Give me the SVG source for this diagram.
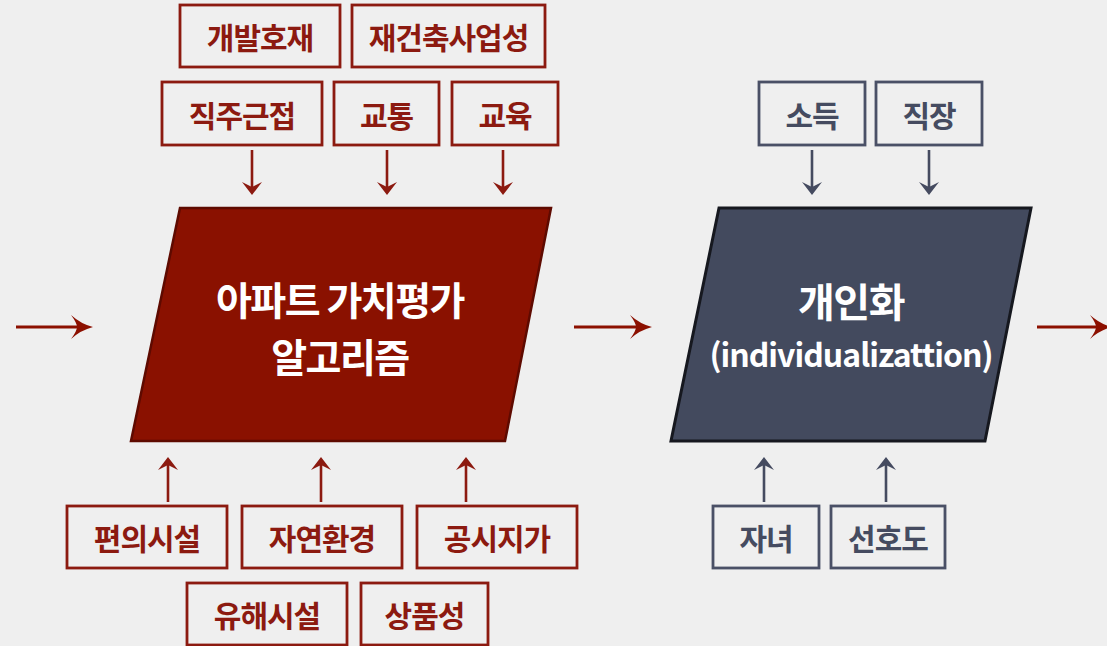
<svg xmlns="http://www.w3.org/2000/svg" width="1107" height="646" viewBox="0 0 1107 646">
  <defs>
    <style>
      .bg { fill: #efefef; }
      .rbox { fill: none; stroke: #8c1a10; stroke-width: 2.8; }
      .bbox { fill: none; stroke: #4a5066; stroke-width: 2.8; }
      .rtxt { fill: #8c1a10; font-family: "Noto Sans CJK KR", "Noto Sans", sans-serif; font-weight: 700; font-size: 30px; letter-spacing: -1px; text-anchor: middle; dominant-baseline: central; }
      .btxt { fill: #454b60; font-family: "Noto Sans CJK KR", "Noto Sans", sans-serif; font-weight: 700; font-size: 30px; letter-spacing: -1px; text-anchor: middle; dominant-baseline: central; }
      .big { fill: #ffffff; font-family: "Noto Sans CJK KR", "Noto Sans", sans-serif; font-weight: 700; font-size: 39px; letter-spacing: -1.5px; text-anchor: middle; dominant-baseline: central; }
      .big2 { fill: #ffffff; font-family: "Noto Sans CJK KR", "Noto Sans", sans-serif; font-weight: 700; font-size: 40px; letter-spacing: -1.5px; text-anchor: middle; dominant-baseline: central; }
      .mid { fill: #ffffff; font-family: "Noto Sans CJK KR", "Noto Sans", sans-serif; font-weight: 700; font-size: 32px; letter-spacing: -1px; text-anchor: middle; dominant-baseline: central; }
      .rline { stroke: #8c1a10; stroke-width: 2.6; fill: none; }
      .bline { stroke: #454b60; stroke-width: 2.6; fill: none; }
      .hline { stroke: #8c1000; stroke-width: 3; fill: none; }
    </style>
    <marker id="hArrow" viewBox="0 -12 24 24" refX="8" refY="0" markerWidth="24" markerHeight="24" markerUnits="userSpaceOnUse" orient="auto">
      <path d="M24,0 Q12,-3 2,-12 Q8,-4 8,0 Q8,4 2,12 Q12,3 24,0 Z" fill="#8c1000"/>
    </marker>
    <marker id="rArrow" viewBox="0 -10 13 20" refX="5" refY="0" markerWidth="13" markerHeight="20" markerUnits="userSpaceOnUse" orient="auto">
      <path d="M13,0 L0,-10 L5,0 L0,10 Z" fill="#8c1a10"/>
    </marker>
    <marker id="bArrow" viewBox="0 -10 13 20" refX="5" refY="0" markerWidth="13" markerHeight="20" markerUnits="userSpaceOnUse" orient="auto">
      <path d="M13,0 L0,-10 L5,0 L0,10 Z" fill="#454b60"/>
    </marker>
  </defs>
  <rect class="bg" x="0" y="0" width="1107" height="646"/>

  <g id="connectors">
    <line class="hline" x1="16" y1="327" x2="77" y2="327" marker-end="url(#hArrow)"/>
    <line class="hline" x1="574" y1="327" x2="636" y2="327" marker-end="url(#hArrow)"/>
    <line class="hline" x1="1037" y1="327" x2="1096" y2="327" marker-end="url(#hArrow)"/>
    <line class="rline" x1="252" y1="150" x2="252" y2="187" marker-end="url(#rArrow)"/>
    <line class="rline" x1="387" y1="150" x2="387" y2="187" marker-end="url(#rArrow)"/>
    <line class="rline" x1="503" y1="150" x2="503" y2="187" marker-end="url(#rArrow)"/>
    <line class="rline" x1="168" y1="502" x2="168" y2="465" marker-end="url(#rArrow)"/>
    <line class="rline" x1="321" y1="502" x2="321" y2="465" marker-end="url(#rArrow)"/>
    <line class="rline" x1="466" y1="502" x2="466" y2="465" marker-end="url(#rArrow)"/>
    <line class="bline" x1="812" y1="150" x2="812" y2="187" marker-end="url(#bArrow)"/>
    <line class="bline" x1="929" y1="150" x2="929" y2="187" marker-end="url(#bArrow)"/>
    <line class="bline" x1="764" y1="502" x2="764" y2="465" marker-end="url(#bArrow)"/>
    <line class="bline" x1="886" y1="502" x2="886" y2="465" marker-end="url(#bArrow)"/>
  </g>

  <g id="valuation">
    <polygon points="180,208 551,208 505,441 131,441" fill="#8a1100" stroke="#5e0a00" stroke-width="2.5"/>
    <text class="big" x="340" y="298">아파트 가치평가</text>
    <text class="big" x="340" y="355">알고리즘</text>
  </g>
  <g id="individualization">
    <polygon points="719,208 1031,208 985,441 671,441" fill="#434a5e" stroke="#16181f" stroke-width="3"/>
    <text class="big2" x="851" y="300">개인화</text>
    <text class="mid" x="851" y="353">(individualizattion)</text>
  </g>

  <g id="box-gaebal"><rect class="rbox" x="180" y="5" width="160" height="62"/><text class="rtxt" x="260" y="36">개발호재</text></g>
  <g id="box-jaegeonchuk"><rect class="rbox" x="352" y="5" width="193" height="62"/><text class="rtxt" x="448.5" y="36">재건축사업성</text></g>
  <g id="box-jikju"><rect class="rbox" x="162" y="82" width="160" height="63"/><text class="rtxt" x="242" y="113.5">직주근접</text></g>
  <g id="box-gyotong"><rect class="rbox" x="334" y="82" width="105" height="63"/><text class="rtxt" x="386.5" y="113.5">교통</text></g>
  <g id="box-gyoyuk"><rect class="rbox" x="452" y="82" width="106" height="63"/><text class="rtxt" x="505" y="113.5">교육</text></g>

  <g id="box-pyeonui"><rect class="rbox" x="67" y="506" width="160" height="62"/><text class="rtxt" x="147" y="537">편의시설</text></g>
  <g id="box-jayeon"><rect class="rbox" x="242" y="506" width="160" height="62"/><text class="rtxt" x="322" y="537">자연환경</text></g>
  <g id="box-gongsi"><rect class="rbox" x="417" y="506" width="160" height="62"/><text class="rtxt" x="497" y="537">공시지가</text></g>
  <g id="box-yuhae"><rect class="rbox" x="187" y="583" width="160" height="62"/><text class="rtxt" x="267" y="614">유해시설</text></g>
  <g id="box-sangpum"><rect class="rbox" x="361" y="583" width="127" height="62"/><text class="rtxt" x="424.5" y="614">상품성</text></g>

  <g id="box-sodeuk"><rect class="bbox" x="759" y="82" width="106" height="63"/><text class="btxt" x="812" y="113.5">소득</text></g>
  <g id="box-jikjang"><rect class="bbox" x="876" y="82" width="106" height="63"/><text class="btxt" x="929" y="113.5">직장</text></g>
  <g id="box-janyeo"><rect class="bbox" x="713" y="506" width="106" height="62"/><text class="btxt" x="766" y="537">자녀</text></g>
  <g id="box-seonho"><rect class="bbox" x="831" y="506" width="114" height="62"/><text class="btxt" x="888" y="537">선호도</text></g>
</svg>
